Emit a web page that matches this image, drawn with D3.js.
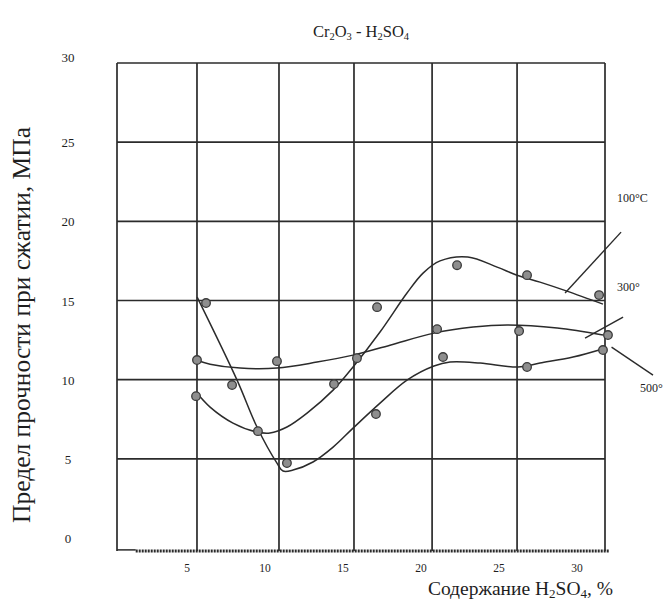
<!DOCTYPE html>
<html><head><meta charset="utf-8">
<script src="https://cdn.jsdelivr.net/npm/d3@7/dist/d3.min.js"></script>
<style>body{margin:0;background:#fff}text{font-family:"Liberation Serif","Times New Roman",serif;fill:#1e1e1e}</style>
</head><body><svg id="c" width="667" height="603"></svg>
<script>
// tick labels / grid values (data units)
const xTicks = [5, 10, 15, 20, 25, 30];
const yTicks = [0, 5, 10, 15, 20, 25, 30];
const hGrid = [5, 10, 15, 20, 25, 30];
const vGrid = [0.5, 5.63, 10.89, 15.70, 20.71, 26.16, 31.80];

// smoothed curves [H2SO4 %, MPa]
const curve100 = [[5.57,9.22],[6.47,8.27],[7.94,7.26],[9.48,6.69],[10.31,6.63],[11.40,7.01],[12.69,7.89],[14.36,9.34],[15.64,10.80],[17.37,13.01],[19.10,15.47],[20.13,16.73],[21.22,17.50],[23.0,17.75],[24.88,17.11],[26.16,16.60],[27.63,16.16],[29.36,15.59],[31.67,14.77]];
const curve300 = [[5.57,11.24],[6.47,10.98],[8.40,10.73],[10.76,10.73],[13.33,11.11],[15.64,11.55],[18.01,12.18],[20.83,12.94],[23.34,13.32],[25.52,13.45],[28.73,13.26],[31.67,12.82]];
const curve500 = [[5.64,15.21],[8.20,9.97],[9.48,7.01],[10.76,4.73],[11.15,4.23],[11.79,4.29],[13.07,4.80],[14.36,5.74],[15.64,6.94],[17.37,8.52],[19.10,9.97],[20.83,10.86],[21.86,11.11],[23.79,11.05],[26.22,10.80],[27.63,11.05],[29.75,11.43],[31.80,11.99]];

// measured points
const points100 = [[5.57,8.96],[9.54,6.75],[14.42,9.72],[17.18,14.58],[22.31,17.23],[26.80,16.60],[31.42,15.34]];
const points300 = [[5.63,11.24],[10.76,11.17],[15.89,11.36],[21.03,13.19],[26.29,13.07],[31.99,12.82]];
const points500 = [[6.21,14.84],[7.88,9.66],[11.40,4.73],[17.11,7.83],[21.41,11.43],[26.80,10.80],[31.67,11.87]];

// curve labels with leader lines
const labels = ["100°C", "300°", "500°"];
const leaders = [[[29.24,15.47],[32.83,19.32]], [[30.52,12.63],[32.96,13.95]], [[32.22,12.06],[34.88,10.29]]];
const labelPos = [[32.57,21.2],[32.57,15.59],[34.05,9.22]];

const svg = d3.select("#c");
const x = d3.scaleLinear().domain([0.5, 31.8]).range([117, 605]);
const y = d3.scaleLinear().domain([-0.82, 30]).range([551, 63]);
const ink = "#2b2b2b";

// grid
svg.append("g").selectAll("line").data(hGrid).join("line")
  .attr("x1", x(0.5)).attr("x2", x(31.8)).attr("y1", d => y(d)).attr("y2", d => y(d))
  .attr("stroke", ink).attr("stroke-width", 1.7);
svg.append("g").selectAll("line").data(vGrid).join("line")
  .attr("x1", d => x(d)).attr("x2", d => x(d)).attr("y1", y(30)).attr("y2", y(-0.82))
  .attr("stroke", ink).attr("stroke-width", 1.7);
// bottom axis line
svg.append("line").attr("x1", x(0.5)).attr("x2", x(1.7)).attr("y1", y(-0.75)).attr("y2", y(-0.75))
  .attr("stroke", ink).attr("stroke-width", 1.5);
svg.append("line").attr("x1", x(1.7)).attr("x2", x(32.1)).attr("y1", y(-0.82)).attr("y2", y(-0.82))
  .attr("stroke", ink).attr("stroke-width", 3).attr("stroke-dasharray", "2,1");

// tick labels
svg.append("g").selectAll("text").data(xTicks).join("text")
  .attr("x", d => x(d)).attr("y", 572).attr("text-anchor", "middle")
  .attr("font-size", 11.5).text(d => d);
svg.append("g").selectAll("text").data(yTicks).join("text")
  .attr("x", 68).attr("y", d => y(d) + (d === 30 ? -1 : 5)).attr("text-anchor", "middle")
  .attr("font-size", 13).text(d => d);

// curves
const line = d3.line().x(d => x(d[0])).y(d => y(d[1])).curve(d3.curveCatmullRom.alpha(0.5));
[curve100, curve300, curve500].forEach(c => {
  svg.append("path").attr("d", line(c)).attr("fill", "none").attr("stroke", ink).attr("stroke-width", 1.5);
});

// leaders and labels
leaders.forEach(l => {
  svg.append("line").attr("x1", x(l[0][0])).attr("y1", y(l[0][1])).attr("x2", x(l[1][0])).attr("y2", y(l[1][1]))
    .attr("stroke", ink).attr("stroke-width", 1.4);
});
labels.forEach((t, i) => {
  svg.append("text").attr("x", x(labelPos[i][0])).attr("y", y(labelPos[i][1]))
    .attr("font-size", 12).text(t);
});

// points
[points100, points300, points500].forEach(p => {
  svg.append("g").selectAll("circle").data(p).join("circle")
    .attr("cx", d => x(d[0])).attr("cy", d => y(d[1])).attr("r", 4.3)
    .attr("fill", "#8e8e8e").attr("stroke", "#3a3a3a").attr("stroke-width", 1.3);
});

// title
const t = svg.append("text").attr("x", 361).attr("y", 37).attr("text-anchor", "middle").attr("font-size", 16.5);
[["Cr",0],["2",1],["O",0],["3",1],[" - H",0],["2",1],["SO",0],["4",1]].forEach(([s, sub]) => {
  const ts = t.append("tspan").text(s);
  if (sub) ts.attr("font-size", 10.5).attr("baseline-shift", "-3");
});
// x-axis title
const xt = svg.append("text").attr("x", 613).attr("y", 595).attr("text-anchor", "end").attr("font-size", 19.5);
[["Содержание H",0],["2",1],["SO",0],["4",1],[", %",0]].forEach(([s, sub]) => {
  const ts = xt.append("tspan").text(s);
  if (sub) ts.attr("font-size", 13).attr("baseline-shift", "-3");
});
// y-axis title
svg.append("text").attr("transform", "translate(30,325) rotate(-90)").attr("text-anchor", "middle")
  .attr("font-size", 25.5).text("Предел прочности при сжатии, МПа");
</script></body></html>
